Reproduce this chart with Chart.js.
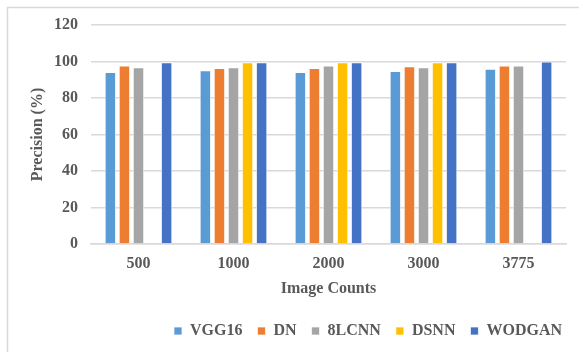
<!DOCTYPE html>
<html>
<head>
<meta charset="utf-8">
<script src="https://cdn.jsdelivr.net/npm/chart.js@4/dist/chart.umd.min.js"></script>
<style>
  html, body { margin: 0; padding: 0; background: #ffffff; }
  #wrap { position: relative; width: 579px; height: 352px; }
</style>
</head>
<body>
<div id="wrap"><canvas id="chart" width="579" height="352"></canvas></div>
<script>
// Image counts on the x axis
const categories = ['500', '1000', '2000', '3000', '3775'];

// Precision (%) per model
const vgg16  = [94.3, 95.2, 94.3, 94.8, 96.0];
const dn     = [97.8, 96.5, 96.5, 97.4, 97.8];
const lcnn8  = [96.8, 96.8, 97.8, 96.8, 97.8];
const dsnn   = [null, 99.6, 99.6, 99.6, null];
const wodgan = [99.6, 99.6, 99.6, 99.6, 100];

const seriesNames = ['VGG16', 'DN', '8LCNN', 'DSNN', 'WODGAN'];
const seriesColors = ['#5B9BD5', '#ED7D31', '#A5A5A5', '#FFC000', '#4472C4'];
const seriesValues = [vgg16, dn, lcnn8, dsnn, wodgan];

const textColor = '#595959';
const gridColor = '#d9d9d9';
const serifBold = { family: "'Liberation Serif', 'Times New Roman', serif", size: 16, weight: 'bold' };

// Light frame along the top and left of the figure
const framePlugin = {
  id: 'frame',
  beforeDraw(chart) {
    const ctx = chart.ctx;
    ctx.save();
    ctx.strokeStyle = '#d9d9d9';
    ctx.lineWidth = 1.5;
    ctx.beginPath();
    ctx.moveTo(7.5, chart.height);
    ctx.lineTo(7.5, 7.5);
    ctx.lineTo(chart.width, 7.5);
    ctx.stroke();
    ctx.restore();
  }
};

// Nudge the legend row a little to the right
const legendShift = {
  id: 'legendShift',
  afterLayout(chart) {
    if (chart.legend) {
      chart.legend.left += 11;
      chart.legend.right += 11;
    }
  }
};

new Chart(document.getElementById('chart'), {
  type: 'bar',
  data: {
    labels: categories,
    datasets: seriesNames.map((name, i) => ({
      label: name,
      data: seriesValues[i],
      backgroundColor: seriesColors[i],
      borderColor: 'rgba(255,255,255,0.7)',
      borderWidth: 1,
      categoryPercentage: 0.74,
      barPercentage: 0.82
    }))
  },
  options: {
    responsive: false,
    animation: false,
    layout: { padding: { top: 25, right: 13, left: 28, bottom: 3 } },
    plugins: {
      legend: {
        position: 'bottom',
        align: 'end',
        labels: {
          color: textColor,
          font: serifBold,
          boxWidth: 8,
          boxHeight: 8,
          padding: 15
        }
      },
      tooltip: { enabled: false }
    },
    scales: {
      x: {
        grid: { display: false, drawTicks: false },
        border: { display: true, color: gridColor, width: 1.5 },
        ticks: { color: textColor, font: serifBold, padding: 10 },
        title: {
          display: true,
          text: 'Image Counts',
          color: textColor,
          font: serifBold,
          padding: { top: 0, bottom: 10 }
        },
        afterFit(scale) { scale.height = 64; }
      },
      y: {
        min: 0,
        max: 120,
        grid: { color: gridColor, lineWidth: 1.5, drawTicks: false },
        border: { display: false },
        ticks: { stepSize: 20, color: textColor, font: serifBold, padding: 13 },
        title: {
          display: true,
          text: 'Precision (%)',
          color: textColor,
          font: serifBold,
          padding: { top: 0, bottom: 0 }
        },
        afterFit(scale) { scale.width = 63; }
      }
    }
  },
  plugins: [framePlugin, legendShift]
});
</script>
</body>
</html>
